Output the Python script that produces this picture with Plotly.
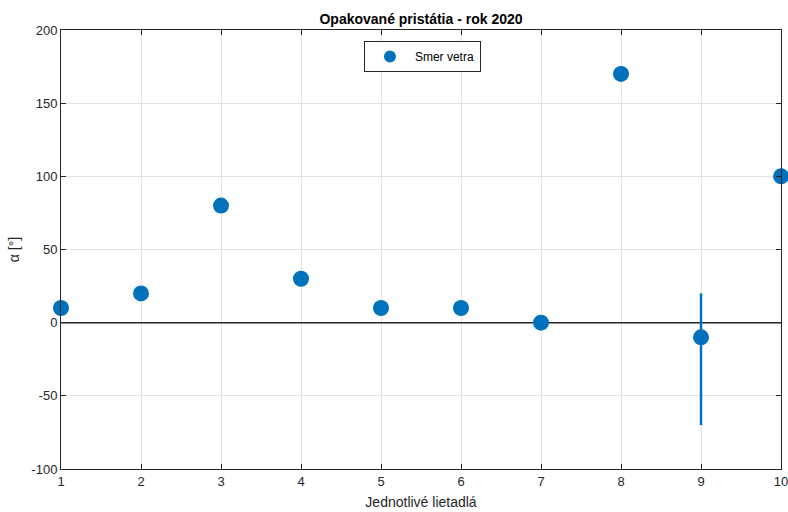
import plotly.graph_objects as go

# Wind direction per aircraft (degrees)
aircraft = [1, 2, 3, 4, 5, 6, 7, 8, 9, 10]
wind_dir = [10, 20, 80, 30, 10, 10, 0, 170, -10, 100]
err_plus = [0, 0, 0, 0, 0, 0, 0, 0, 30, 0]
err_minus = [0, 0, 0, 0, 0, 0, 0, 0, 60, 0]

x_ticks = [1, 2, 3, 4, 5, 6, 7, 8, 9, 10]
y_ticks = [-100, -50, 0, 50, 100, 150, 200]
y_tick_text = ["-100", "-50", "0", "50", "100", "150", "200"]

blue = "#0072BD"
font_family = "Liberation Sans, Arial, Helvetica, sans-serif"

fig = go.Figure()

# zero reference line
fig.add_trace(go.Scatter(
    x=[x_ticks[0], x_ticks[-1]], y=[0, 0], mode="lines",
    line=dict(color="#262626", width=1.5), showlegend=False, hoverinfo="skip",
))

fig.add_trace(go.Scatter(
    x=aircraft, y=wind_dir, mode="markers", name="Smer vetra",
    marker=dict(color=blue, size=16, line=dict(width=0)),
    error_y=dict(type="data", symmetric=False, array=err_plus,
                 arrayminus=err_minus, color=blue, thickness=2.5, width=0),
    cliponaxis=False,
))

axis_common = dict(
    showline=True, linecolor="#262626", linewidth=1, mirror="ticks",
    ticks="inside", ticklen=5, tickcolor="#262626",
    showgrid=True, gridcolor="#E3E3E3", gridwidth=1, zeroline=False,
    tickfont=dict(size=13, color="#262626", family=font_family),
    ticklabeloverflow="allow", automargin=False,
)

fig.update_layout(
    width=788, height=512,
    margin=dict(l=61, r=7, t=30, b=43),
    paper_bgcolor="white", plot_bgcolor="white",
    title=dict(text="<b>Opakované pristátia - rok 2020</b>", x=0.5, xref="paper",
               xanchor="center", y=1, yref="paper", yanchor="bottom", pad=dict(b=6),
               font=dict(size=14, color="black", family=font_family)),
    xaxis=dict(range=[1, 10], tickvals=x_ticks,
               title=dict(text="Jednotlivé lietadlá", standoff=9,
                          font=dict(size=14, color="#262626", family=font_family)),
               **axis_common),
    yaxis=dict(range=[-100, 200], tickvals=y_ticks, ticktext=y_tick_text,
               title=dict(text="α [°]", standoff=8,
                          font=dict(size=14, color="#262626", family=font_family)),
               **axis_common),
    legend=dict(x=0.502, y=0.975, xanchor="center", yanchor="top",
                bgcolor="white", bordercolor="#262626", borderwidth=1,
                itemsizing="constant", itemwidth=40, tracegroupgap=0,
                font=dict(size=12, color="black", family=font_family)),
)

fig.write_html("out.html")
